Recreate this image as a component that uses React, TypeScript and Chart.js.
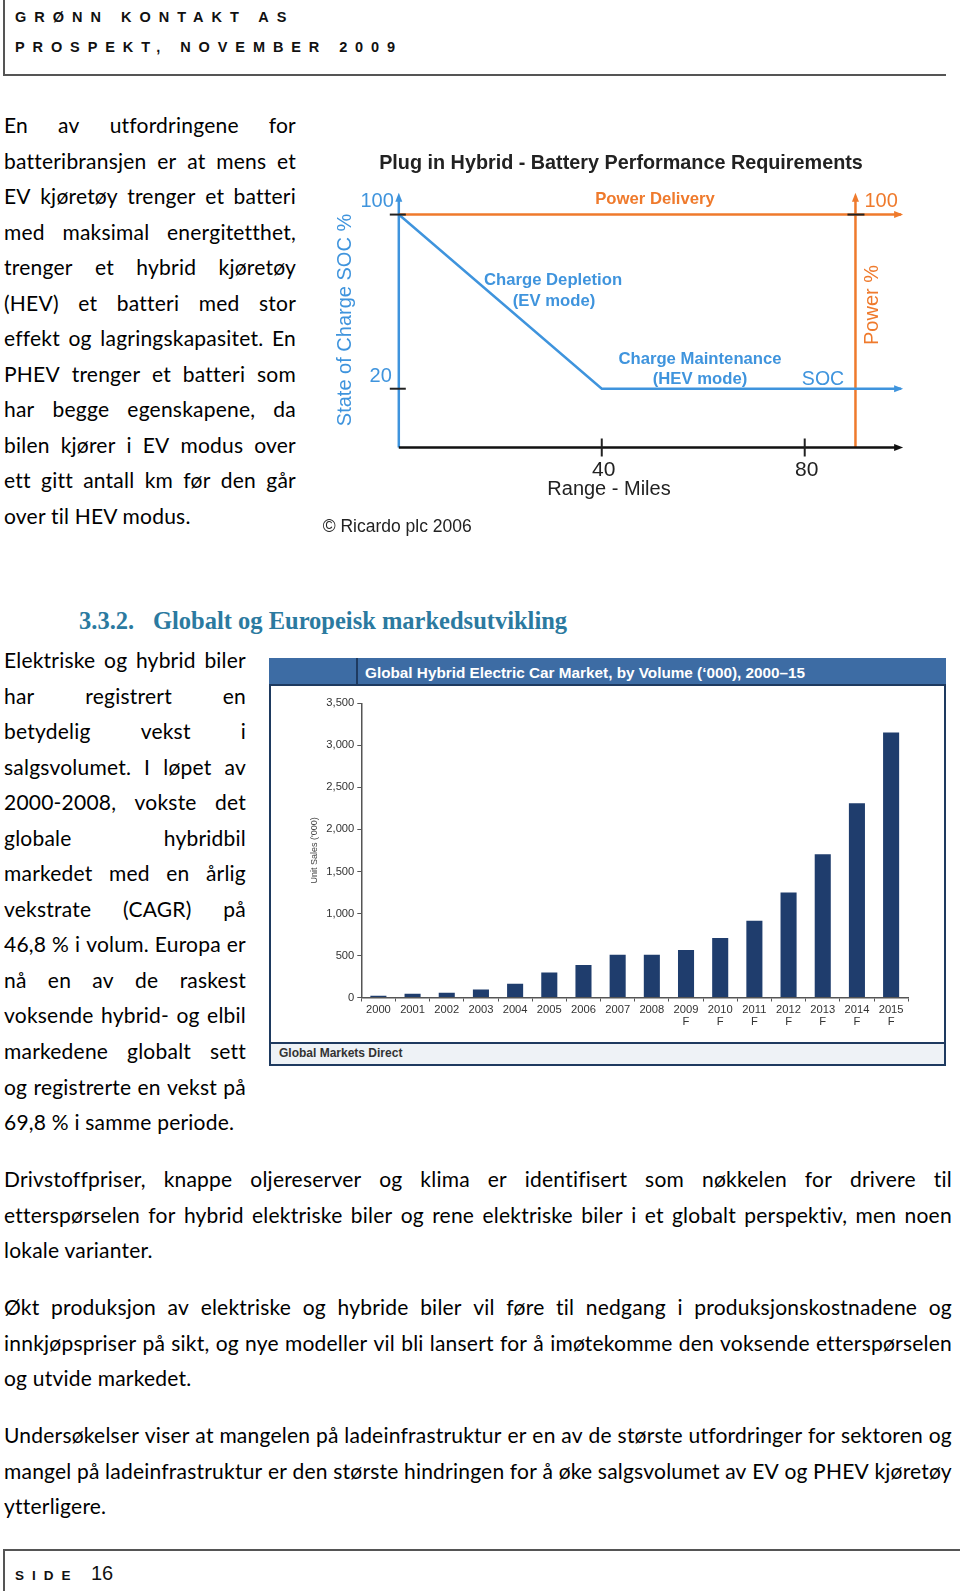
import React, { useEffect, useLayoutEffect, useRef } from "react";
import { Chart, registerables } from "chart.js";
Chart.register(...registerables);

// ---------- Data: Plug in Hybrid diagram ----------
const socRangeMiles = [0, 40, 99];
const socPercent = [100, 20, 20];
const powerRangeMiles = [0, 99];
const powerPercent = [100, 100];
const rangeTickValues = [40, 80];
const socTickValues = [20, 100];
const powerAxisMiles = 90;

// ---------- Data: Global Hybrid Electric Car Market ----------
const years = ["2000", "2001", "2002", "2003", "2004", "2005", "2006", "2007", "2008", "2009", "2010", "2011", "2012", "2013", "2014", "2015"];
const forecastYears = ["2009", "2010", "2011", "2012", "2013", "2014", "2015"];
const unitSalesThousands = [20, 44, 56, 96, 164, 296, 388, 508, 508, 564, 708, 912, 1248, 1704, 2312, 3152];
const salesAxisMax = 3500;
const salesAxisStep = 500;

// ---------- Text ----------
const col1Lines = [
  "En av utfordringene for",
  "batteribransjen er at mens et",
  "EV kjøretøy trenger et batteri",
  "med maksimal energitetthet,",
  "trenger et hybrid kjøretøy",
  "(HEV) et batteri med stor",
  "effekt og lagringskapasitet. En",
  "PHEV trenger et batteri som",
  "har begge egenskapene, da",
  "bilen kjører i EV modus over",
  "ett gitt antall km før den går",
  "over til HEV modus.",
];
const col2Lines = [
  "Elektriske og hybrid biler",
  "har registrert en",
  "betydelig vekst i",
  "salgsvolumet. I løpet av",
  "2000-2008, vokste det",
  "globale hybridbil",
  "markedet med en årlig",
  "vekstrate (CAGR) på",
  "46,8 % i volum. Europa er",
  "nå en av de raskest",
  "voksende hybrid- og elbil",
  "markedene globalt sett",
  "og registrerte en vekst på",
  "69,8 % i samme periode.",
];
const para1 = [
  "Drivstoffpriser, knappe oljereserver og klima er identifisert som nøkkelen for drivere til",
  "etterspørselen for hybrid elektriske biler og rene elektriske biler i et globalt perspektiv, men noen",
  "lokale varianter.",
];
const para2 = [
  "Økt produksjon av elektriske og hybride biler vil føre til nedgang i produksjonskostnadene og",
  "innkjøpspriser på sikt, og nye modeller vil bli lansert for å imøtekomme den voksende etterspørselen",
  "og utvide markedet.",
];
const para3 = [
  "Undersøkelser viser at mangelen på ladeinfrastruktur er en av de største utfordringer for sektoren og",
  "mangel på ladeinfrastruktur er den største hindringen for å øke salgsvolumet av EV og PHEV kjøretøy",
  "ytterligere.",
];

// ---------- Styles ----------
const BLUE = "#3f94dd";
const ORANGE = "#ef7a2c";
const NAVY = "#1f3d6d";
const PANEL_BLUE = "#3d6ca4";
const PANEL_DARK = "#1e3a60";
const TEAL = "#2b7aa0";
const SANS = "'Liberation Sans', Arial, sans-serif";
const BODY = "Lato, 'Open Sans', sans-serif";
const FS = 21;
const LINE_STEP = 35.52;

Chart.defaults.font.family = SANS;

function BodyLine({ text, left, width, base, justify }: { text: string; left: number; width: number; base: number; justify: boolean }) {
  const lh = FS * 1.2;
  const top = base - 0.987 * FS;
  const words = text.split(" ");
  return (
    <div
      style={{
        position: "absolute",
        left,
        top,
        width,
        height: lh,
        lineHeight: lh + "px",
        fontSize: FS,
        fontFamily: BODY,
        letterSpacing: 0.22,
        color: "#000",
        whiteSpace: "nowrap",
        display: "flex",
        justifyContent: justify ? "space-between" : "flex-start",
      }}
    >
      {justify ? words.map((w, i) => <span key={i}>{w}</span>) : <span>{text}</span>}
    </div>
  );
}

function Paragraph({ lines, left, width, firstBase }: { lines: string[]; left: number; width: number; firstBase: number }) {
  return (
    <>
      {lines.map((t, i) => (
        <BodyLine key={i} text={t} left={left} width={width} base={firstBase + i * LINE_STEP} justify={i < lines.length - 1} />
      ))}
    </>
  );
}

function arrow(ctx: CanvasRenderingContext2D, x: number, y: number, dir: "up" | "right", color: string) {
  ctx.save();
  ctx.fillStyle = color;
  ctx.beginPath();
  if (dir === "up") {
    ctx.moveTo(x, y);
    ctx.lineTo(x - 3.5, y + 9);
    ctx.lineTo(x + 3.5, y + 9);
  } else {
    ctx.moveTo(x, y);
    ctx.lineTo(x - 9, y - 3.5);
    ctx.lineTo(x - 9, y + 3.5);
  }
  ctx.closePath();
  ctx.fill();
  ctx.restore();
}

function seg(ctx: CanvasRenderingContext2D, x1: number, y1: number, x2: number, y2: number, color: string, w: number) {
  ctx.save();
  ctx.strokeStyle = color;
  ctx.lineWidth = w;
  ctx.beginPath();
  ctx.moveTo(x1, y1);
  ctx.lineTo(x2, y2);
  ctx.stroke();
  ctx.restore();
}

function txt(ctx: CanvasRenderingContext2D, s: string, x: number, y: number, font: string, color: string, align: CanvasTextAlign = "center", rot = 0) {
  ctx.save();
  ctx.font = font;
  ctx.fillStyle = color;
  ctx.textAlign = align;
  ctx.textBaseline = "middle";
  ctx.translate(x, y);
  if (rot) ctx.rotate(rot);
  ctx.fillText(s, 0, 0);
  ctx.restore();
}

const C1_LEFT = 310;
const C1_TOP = 140;

const diagramPlugin = {
  id: "diagram",
  beforeDatasetsDraw(chart: any) {
    const { ctx, scales } = chart;
    const X = (v: number) => scales.x.getPixelForValue(v);
    const Y = (v: number) => scales.y.getPixelForValue(v);
    const yMin = scales.y.min;
    const yMax = scales.y.max;
    seg(ctx, X(0), Y(yMin), X(0), Y(yMax) + 8, BLUE, 2.5);
    arrow(ctx, X(0), Y(yMax), "up", BLUE);
    seg(ctx, X(powerAxisMiles), Y(yMin), X(powerAxisMiles), Y(yMax) + 8, ORANGE, 2.5);
    arrow(ctx, X(powerAxisMiles), Y(yMax), "up", ORANGE);
    seg(ctx, X(0), Y(yMin), X(99.4) - 8, Y(yMin), "#111", 2.5);
    arrow(ctx, X(99.4), Y(yMin), "right", "#111");
  },
  afterDatasetsDraw(chart: any) {
    const { ctx, scales } = chart;
    const X = (v: number) => scales.x.getPixelForValue(v);
    const Y = (v: number) => scales.y.getPixelForValue(v);
    const yMin = scales.y.min;
    const px = (v: number) => v - C1_LEFT;
    const py = (v: number) => v - C1_TOP;
    const sl = socRangeMiles.length - 1;
    arrow(ctx, X(socRangeMiles[sl]) + 2, Y(socPercent[sl]), "right", BLUE);
    const pl = powerRangeMiles.length - 1;
    arrow(ctx, X(powerRangeMiles[pl]) + 2, Y(powerPercent[pl]), "right", ORANGE);
    socTickValues.forEach((v) => seg(ctx, X(0) - 9, Y(v), X(0) + 7, Y(v), "#222", 2));
    seg(ctx, X(powerAxisMiles) - 8, Y(100), X(powerAxisMiles) + 9, Y(100), "#222", 2);
    rangeTickValues.forEach((v) => seg(ctx, X(v), Y(yMin) - 9, X(v), Y(yMin) + 9, "#222", 2));
    txt(ctx, "Plug in Hybrid - Battery Performance Requirements", px(621), py(164), "bold 19.8px " + SANS, "#222");
    txt(ctx, "100", X(0) - 5, Y(100) - 13, "20px " + SANS, BLUE, "right");
    txt(ctx, "20", X(0) - 7, Y(20) - 12, "20px " + SANS, BLUE, "right");
    txt(ctx, "State of Charge SOC %", X(0) - 53, py(320), "20px " + SANS, BLUE, "center", -Math.PI / 2);
    txt(ctx, "Power Delivery", px(655), Y(100) - 15, "bold 16.7px " + SANS, ORANGE);
    txt(ctx, "100", X(powerAxisMiles) + 9, Y(100) - 13, "20px " + SANS, ORANGE, "left");
    txt(ctx, "Power %", X(powerAxisMiles) + 17.5, py(305), "20px " + SANS, ORANGE, "center", -Math.PI / 2);
    txt(ctx, "Charge Depletion", px(553), py(280.5), "bold 16.7px " + SANS, BLUE);
    txt(ctx, "(EV mode)", px(554), py(301), "bold 16.7px " + SANS, BLUE);
    txt(ctx, "Charge Maintenance", px(700), py(359.5), "bold 16.7px " + SANS, BLUE);
    txt(ctx, "(HEV mode)", px(700), py(379.5), "bold 16.7px " + SANS, BLUE);
    txt(ctx, "SOC", px(823), py(380), "19.5px " + SANS, BLUE);
    rangeTickValues.forEach((v) => txt(ctx, String(v), X(v) + 2, Y(yMin) + 23, "21px " + SANS, "#222"));
    txt(ctx, "Range - Miles", px(609), Y(yMin) + 42, "20px " + SANS, "#222");
    txt(ctx, "© Ricardo plc 2006", px(322.7), py(527), "17.5px " + SANS, "#222", "left");
  },
};

function DiagramChart() {
  const ref = useRef<HTMLCanvasElement>(null);
  useEffect(() => {
    if (!ref.current) return;
    const chart = new Chart(ref.current, {
      type: "scatter",
      data: {
        datasets: [
          {
            data: socRangeMiles.map((x, i) => ({ x, y: socPercent[i] })),
            showLine: true,
            borderColor: BLUE,
            borderWidth: 2.5,
            pointRadius: 0,
            tension: 0,
          },
          {
            data: powerRangeMiles.map((x, i) => ({ x, y: powerPercent[i] })),
            showLine: true,
            borderColor: ORANGE,
            borderWidth: 2.5,
            pointRadius: 0,
            tension: 0,
          },
        ],
      },
      options: {
        animation: false,
        responsive: false,
        maintainAspectRatio: false,
        layout: { padding: { left: 88.8, right: 23.8, top: 52.8, bottom: 92.5 } },
        scales: {
          x: { type: "linear", min: 0, max: 100, display: false },
          y: { type: "linear", min: -7, max: 110, display: false },
        },
        plugins: { legend: { display: false }, tooltip: { enabled: false } },
      },
      plugins: [diagramPlugin],
    } as any);
    return () => chart.destroy();
  }, []);
  return <canvas ref={ref} width={620} height={400} style={{ position: "absolute", left: C1_LEFT, top: C1_TOP, width: 620, height: 400 }} />;
}

function MarketChart() {
  const ref = useRef<HTMLCanvasElement>(null);
  useEffect(() => {
    if (!ref.current) return;
    const labels = years.map((y) => (forecastYears.includes(y) ? [y, "F"] : y));
    const chart = new Chart(ref.current, {
      type: "bar",
      data: {
        labels,
        datasets: [
          {
            data: unitSalesThousands,
            backgroundColor: NAVY,
            borderWidth: 0,
            barPercentage: 0.47,
            categoryPercentage: 1,
          },
        ],
      },
      options: {
        animation: false,
        responsive: false,
        maintainAspectRatio: false,
        layout: { padding: { left: 38.2, right: 35.8, top: 17.3, bottom: 0 } },
        scales: {
          x: {
            grid: { display: true, drawOnChartArea: false, drawTicks: true, tickLength: 4, color: "#555", offset: true },
            border: { color: "#555", width: 1.5 },
            ticks: { font: { size: 11.2, lineHeight: 1.1 }, color: "#333", padding: 2, maxRotation: 0, autoSkip: false },
            afterFit: (s: any) => {
              s.height = 44.5;
            },
          },
          y: {
            min: 0,
            max: salesAxisMax,
            grid: { display: true, drawOnChartArea: false, drawTicks: true, tickLength: 4, color: "#555" },
            border: { color: "#555", width: 1.5 },
            ticks: {
              stepSize: salesAxisStep,
              font: { size: 11.2 },
              color: "#333",
              padding: 3,
              callback: (v: any) => Number(v).toLocaleString("en-US"),
            },
            title: { display: true, text: "Unit Sales ('000)", font: { size: 9 }, color: "#444", padding: 0 },
            afterFit: (s: any) => {
              s.width = 52.1;
            },
          },
        },
        plugins: { legend: { display: false }, tooltip: { enabled: false } },
      },
    } as any);
    return () => chart.destroy();
  }, []);
  return <canvas ref={ref} width={673} height={356} style={{ position: "absolute", left: 271, top: 686, width: 673, height: 356 }} />;
}

function abs(style: React.CSSProperties): React.CSSProperties {
  return { position: "absolute", ...style };
}

export default function App() {
  useLayoutEffect(() => {
    document.body.style.margin = "0";
  }, []);
  const sansTop = (base: number, fs: number) => base - 0.905 * fs;
  const HFS = 24.5;
  return (
    <div style={{ position: "relative", width: 960, height: 1591, overflow: "hidden", background: "#fff" }}>
      {/* Header */}
      <div style={abs({ left: 3, top: 0, width: 2, height: 76, background: "#555" })} />
      <div style={abs({ left: 3, top: 74, width: 943, height: 2, background: "#555" })} />
      <div style={abs({ left: 15, top: sansTop(23.5, 14.5), fontFamily: SANS, fontWeight: "bold", fontSize: 14.5, lineHeight: "15px", letterSpacing: 8.0, color: "#111", whiteSpace: "nowrap" })}>
        GRØNN KONTAKT AS
      </div>
      <div style={abs({ left: 15, top: sansTop(53, 14.5), fontFamily: SANS, fontWeight: "bold", fontSize: 14.5, lineHeight: "15px", letterSpacing: 7.9, color: "#111", whiteSpace: "nowrap" })}>
        PROSPEKT, NOVEMBER 2009
      </div>

      {/* First column text */}
      <Paragraph lines={col1Lines} left={4} width={292} firstBase={133} />
      <DiagramChart />

      {/* Heading */}
      <div style={abs({ left: 79, top: 631 - 0.891 * HFS, fontFamily: "'Liberation Serif', serif", fontWeight: "bold", fontSize: HFS, lineHeight: HFS + "px", color: TEAL, whiteSpace: "nowrap" })}>
        3.3.2.
      </div>
      <div style={abs({ left: 153, top: 631 - 0.891 * HFS, fontFamily: "'Liberation Serif', serif", fontWeight: "bold", fontSize: HFS, lineHeight: HFS + "px", color: TEAL, whiteSpace: "nowrap" })}>
        Globalt og Europeisk markedsutvikling
      </div>

      {/* Second column text */}
      <Paragraph lines={col2Lines} left={4} width={242} firstBase={668} />

      {/* Market panel */}
      <div style={abs({ left: 269, top: 657.6, width: 677, height: 28.4, background: PANEL_BLUE, borderBottom: "2px solid " + PANEL_DARK, boxSizing: "border-box" })} />
      <div style={abs({ left: 356, top: 657.6, width: 2, height: 28.4, background: PANEL_DARK })} />
      <div style={abs({ left: 365, top: 672.5 - 9, fontFamily: SANS, fontWeight: "bold", fontSize: 15.3, lineHeight: "18px", color: "#fff", whiteSpace: "nowrap" })}>
        Global Hybrid Electric Car Market, by Volume (‘000), 2000–15
      </div>
      <div style={abs({ left: 269, top: 686, width: 677, height: 380, borderLeft: "2px solid " + PANEL_DARK, borderRight: "2px solid " + PANEL_DARK, borderBottom: "2px solid " + PANEL_DARK, boxSizing: "border-box" })} />
      <MarketChart />
      <div style={abs({ left: 271, top: 1042, width: 673, height: 22, background: "#eef2f6", borderTop: "2px solid " + PANEL_DARK, boxSizing: "border-box" })} />
      <div style={abs({ left: 279, top: 1053 - 8, fontFamily: SANS, fontWeight: "bold", fontSize: 12, lineHeight: "16px", color: "#333", whiteSpace: "nowrap" })}>
        Global Markets Direct
      </div>

      {/* Full-width paragraphs */}
      <Paragraph lines={para1} left={4} width={948} firstBase={1187} />
      <Paragraph lines={para2} left={4} width={948} firstBase={1315} />
      <Paragraph lines={para3} left={4} width={948} firstBase={1443} />

      {/* Footer */}
      <div style={abs({ left: 3, top: 1549, width: 957, height: 2, background: "#555" })} />
      <div style={abs({ left: 3, top: 1549, width: 2, height: 42, background: "#555" })} />
      <div style={abs({ left: 15, top: sansTop(1581, 13.5), fontFamily: SANS, fontWeight: "bold", fontSize: 13.5, lineHeight: "14px", letterSpacing: 8, color: "#111", whiteSpace: "nowrap" })}>
        SIDE
      </div>
      <div style={abs({ left: 91, top: sansTop(1581, 20), fontFamily: SANS, fontSize: 20, lineHeight: "20px", color: "#111", whiteSpace: "nowrap" })}>
        16
      </div>
    </div>
  );
}
